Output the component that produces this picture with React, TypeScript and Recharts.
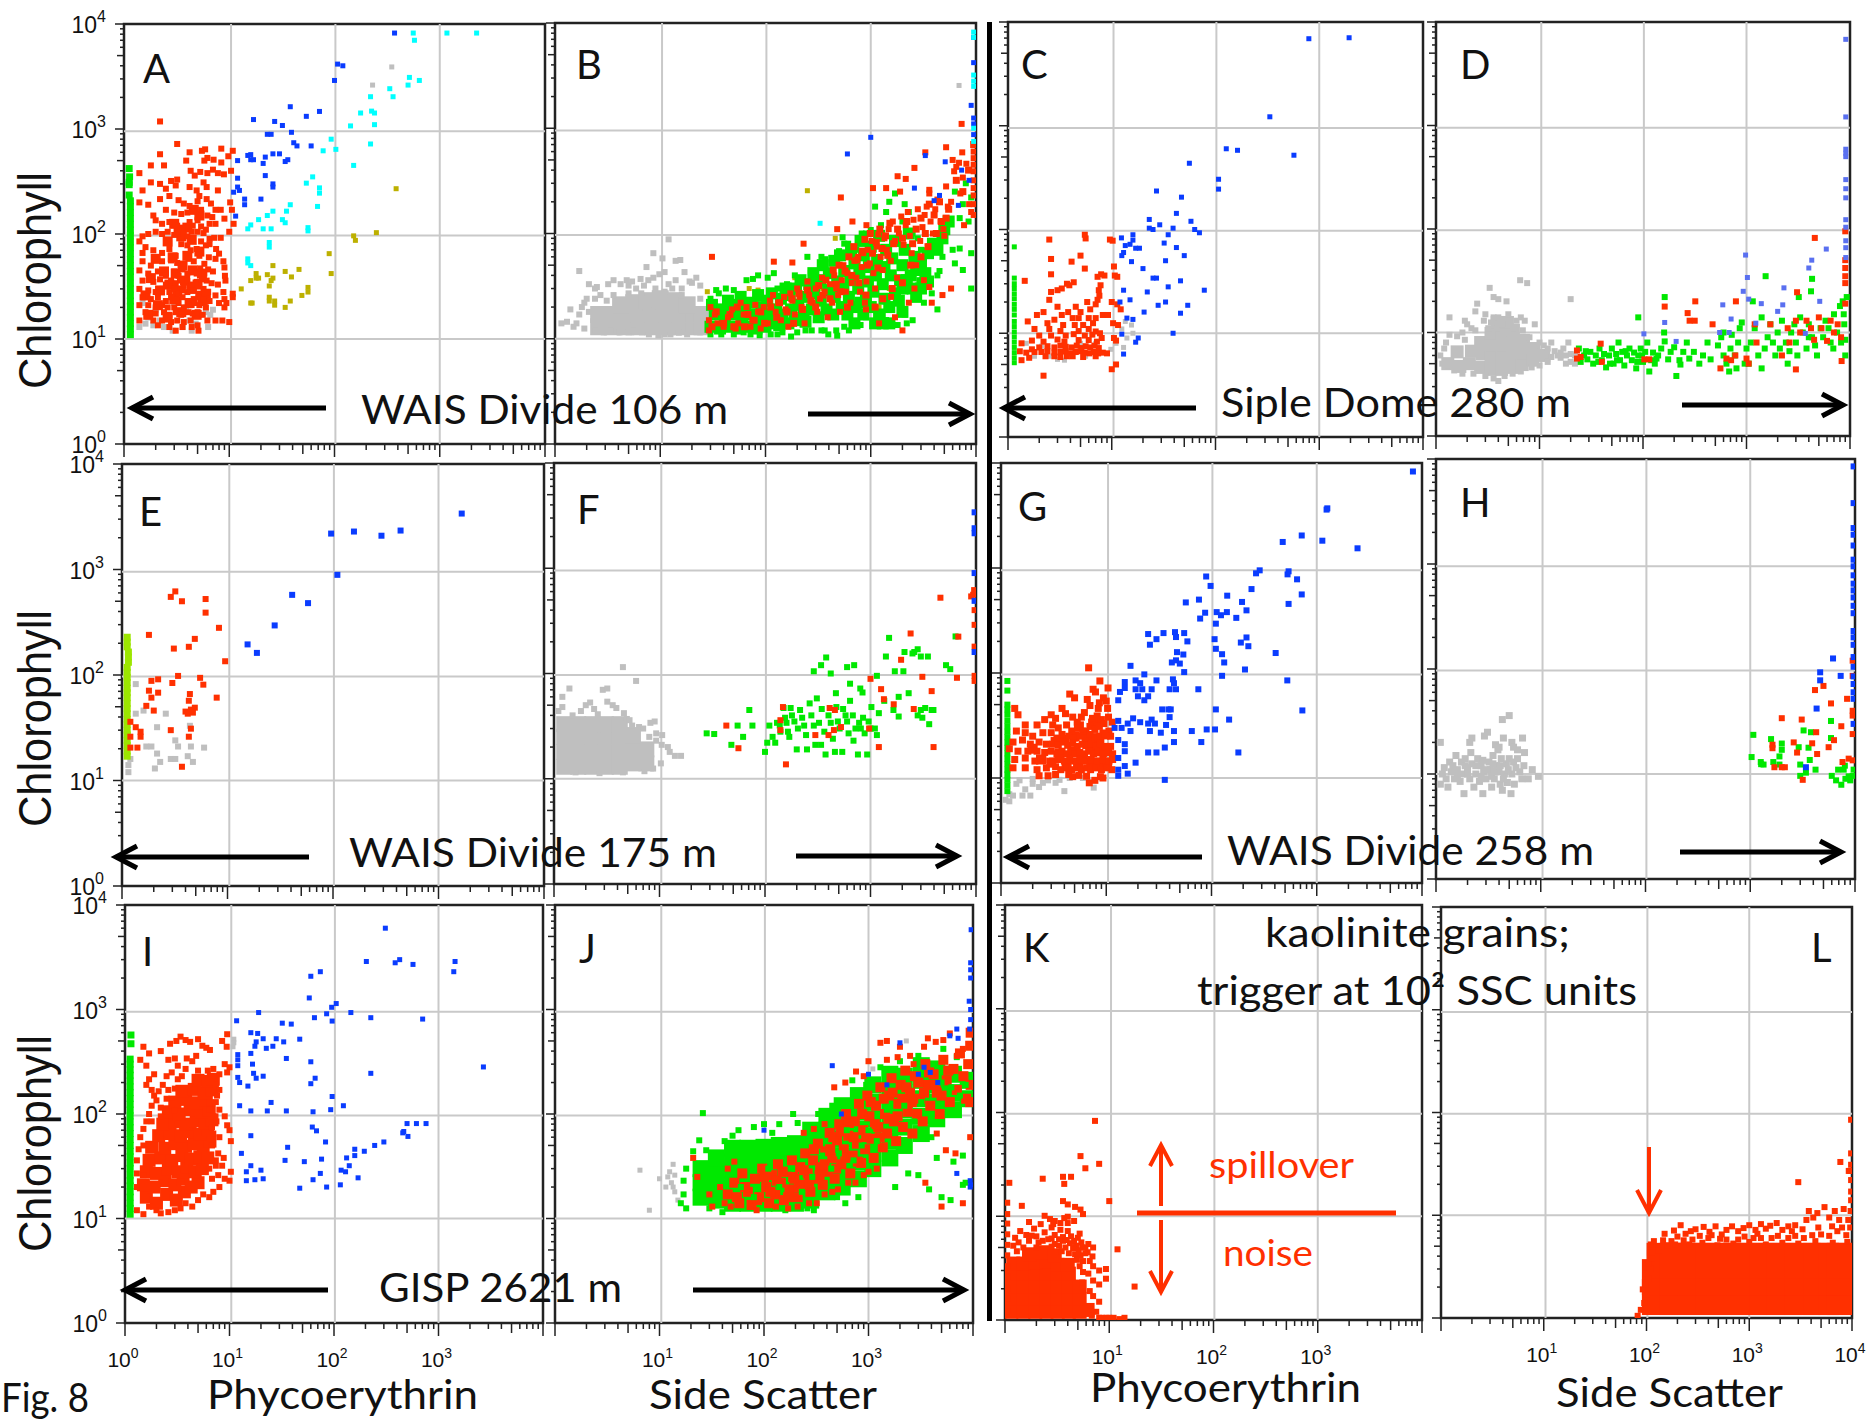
import { ReferenceArea, ReferenceLine, Scatter, ScatterChart, XAxis, YAxis } from "recharts"

type Pt = [number, number]

const RED = "#ff3000"
const GREEN = "#00e800"
const BLUE = "#0a3cff"
const CYAN = "#00ffff"
const OLIVE = "#bdb000"
const GRAY = "#bfbfbf"
const LIME = "#9ce600"
const PERI = "#5a70f0"

const logTicks = [1, 2, 3, 4, 5, 6, 7, 8, 9, 10, 20, 30, 40, 50, 60, 70, 80, 90, 100, 200, 300, 400, 500, 600, 700, 800, 900, 1000, 2000, 3000, 4000, 5000, 6000, 7000, 8000, 9000, 10000]
const gridX = [10.4, 102, 1000]
const gridY = [950, 97, 10]

// panel A
const aGreen: Pt[] = [[1.15, 11], [1.15, 12.5], [1.15, 14], [1.15, 16], [1.15, 18], [1.15, 20.5], [1.15, 23], [1.15, 26], [1.15, 30], [1.15, 34], [1.15, 39], [1.15, 44], [1.15, 50], [1.15, 57], [1.15, 65], [1.15, 74], [1.15, 84], [1.15, 96], [1.15, 109], [1.15, 124], [1.15, 141], [1.15, 160], [1.15, 182], [1.15, 207], [1.12, 235], [1.12, 295], [1.12, 310], [1.13, 350], [1.12, 420]]
const aGray: Pt[] = [[1.4, 13], [1.6, 14], [1.7, 16], [1.9, 13.5], [2.2, 15], [2.4, 13], [2.6, 17], [2.9, 12], [3.3, 18], [3.6, 13], [3.9, 20], [4.2, 15], [4.4, 12], [4.8, 14], [5.2, 17], [5.6, 22], [6, 18], [6.3, 13], [6.6, 17], [7, 19], [2, 19], [3, 22], [1.5, 22]]
const aRedCore: Pt[] = [[1.7, 17], [2.1, 21], [2.6, 16], [3, 24], [3.5, 18], [4.2, 22], [4.9, 17], [5.6, 23], [1.6, 26], [2.2, 29], [2.7, 33], [3.2, 29], [3.8, 36], [4.4, 30], [5, 33], [6, 27], [1.8, 38], [2.4, 44], [3.1, 42], [3.6, 50], [4.5, 45], [5.5, 42], [2, 58], [2.9, 60], [4, 62], [5.2, 68], [2.6, 85], [3.5, 95], [4.4, 88], [3, 125], [4, 115], [3.3, 105], [5.2, 150], [4.6, 170]]
const aRed: Pt[] = [[2.2, 1180], [3.2, 720], [2.2, 575], [1.8, 450], [2.4, 450], [1.4, 380], [4.2, 600], [3.9, 500], [5.5, 620], [5.9, 640], [8.4, 650], [10.8, 620], [6.2, 530], [9.8, 550], [8.4, 480], [5.8, 500], [7.1, 510], [10.4, 400], [4.3, 400], [4.7, 360], [5.3, 390], [6.2, 380], [7, 410], [7.8, 380], [8.9, 370], [3.2, 330], [2.8, 320], [2.2, 300], [1.8, 310], [2.5, 270], [3.1, 290], [1.5, 260], [4.2, 280], [4.9, 260], [5.7, 310], [6.1, 280], [7.8, 260], [5.2, 230], [2.7, 230], [2.2, 215], [1.4, 200], [1.7, 190], [3.3, 210], [3.7, 195], [4.2, 185], [5, 205], [6.1, 215], [6.7, 195], [7.4, 170], [8.3, 170], [10.2, 200], [10.6, 170], [2.5, 170], [3, 160], [3.5, 155], [4, 160], [4.6, 165], [5.4, 170], [6.2, 150], [6.9, 145], [7.4, 125], [9, 140], [11, 125], [1.9, 150], [2, 135], [2.3, 125], [2.7, 130], [3.2, 120], [3.6, 115], [4.2, 130], [4.5, 120], [5, 135], [5.4, 118], [6, 110], [6.5, 125], [10, 105], [1.5, 95], [1.7, 100], [2, 105], [2.3, 100], [2.6, 105], [3, 98], [3.3, 105], [3.7, 100], [4, 95], [4.4, 105], [5, 105], [5.7, 102], [6.5, 90], [7.2, 92], [8.3, 92], [1.4, 85], [1.6, 75], [1.5, 66], [1.9, 70], [2.3, 66], [2.7, 72], [3.1, 62], [3.5, 80], [4, 78], [4.3, 70], [4.9, 72], [5.4, 85], [6, 78], [6.5, 80], [7.5, 72], [1.5, 55], [1.8, 50], [2.3, 55], [2.8, 56], [3.2, 53], [3.7, 50], [4.1, 58], [4.6, 55], [5.2, 62], [5.8, 52], [6.4, 60], [7.4, 58], [8, 65], [8.8, 55], [9, 48], [1.4, 45], [1.7, 42], [2.1, 44], [2.5, 40], [3, 44], [3.3, 40], [3.6, 46], [4, 42], [4.4, 45], [4.9, 42], [5.3, 47], [5.8, 42], [6.3, 46], [7, 44], [9.1, 40], [9.2, 36], [1.5, 36], [1.9, 35], [2.2, 37], [2.5, 33], [2.8, 36], [3.1, 34], [3.4, 36], [3.7, 32], [4, 36], [4.4, 33], [4.9, 35], [5.5, 37], [6.1, 36], [6.8, 34], [7.8, 33], [1.4, 30], [1.7, 29], [2, 28], [2.3, 30], [2.7, 28], [3, 30], [3.3, 27], [3.6, 29], [4, 28], [4.6, 29], [5.1, 27], [5.7, 30], [6.3, 28], [8.8, 28], [10.8, 27], [1.5, 25], [1.8, 24], [2.1, 25], [2.5, 23], [2.8, 25], [3.2, 24], [3.6, 25], [4.1, 23], [4.6, 24], [5.1, 25], [5.7, 24], [6.5, 23], [7.4, 26], [9, 24], [10.8, 25], [1.4, 21], [1.7, 21], [2, 20], [2.3, 21], [2.6, 20], [3, 20], [3.3, 22], [3.7, 20], [4.2, 21], [4.7, 22], [5.2, 21], [6, 20], [8, 22], [9, 20], [9.4, 22], [1.6, 18], [2, 17.5], [2.4, 18], [2.7, 17], [3.1, 18], [3.5, 17], [4.1, 18], [4.5, 17.5], [5, 18], [5.6, 17], [1.4, 15], [1.9, 15], [2.3, 15], [2.8, 14.5], [3.2, 15], [3.7, 14.5], [4.3, 15], [5, 13.5], [6.2, 15], [7.4, 15], [8.6, 15], [10, 14.5], [2.1, 13.5], [2.7, 13], [3.1, 12], [3.6, 13], [4.4, 13], [5.1, 12]]
const aBlue: Pt[] = [[372, 8200], [107, 4150], [120, 4000], [100, 2900], [38, 1630], [72, 1470], [54, 1320], [17, 1230], [27, 1180], [32, 1080], [39, 930], [23, 890], [25, 890], [41, 740], [44, 690], [60, 690], [15, 560], [16, 570], [16, 510], [17, 510], [22, 540], [26, 580], [30, 580], [36, 510], [34, 490], [21, 470], [12, 500], [22, 360], [12, 340], [26, 300], [26, 280], [12, 280], [12.5, 260], [11, 250], [14, 215], [14, 190], [20, 215], [11.5, 148]]
const aCyan: Pt[] = [[560, 8200], [575, 7000], [1170, 8200], [2240, 8200], [515, 3100], [640, 2900], [500, 2620], [335, 2420], [360, 2030], [220, 2030], [225, 1480], [240, 1420], [177, 1420], [240, 1100], [142, 1070], [93, 800], [220, 720], [78, 620], [103, 640], [152, 450], [62, 350], [54, 305], [72, 275], [72, 245], [69, 183], [38, 190], [35, 165], [26, 165], [23, 150], [32, 137], [34, 128], [19, 137], [16, 122], [15, 112], [21, 112], [25, 112], [56, 115], [56, 107], [24, 83], [24, 75], [15, 58], [15, 53], [16, 50]]
const aOlive: Pt[] = [[385, 270], [250, 103], [152, 96], [158, 87], [89, 65], [93, 42], [26, 50], [46, 46], [34, 44], [39, 39], [23, 41], [18, 42], [18, 38], [19, 38], [16, 36], [26, 38], [25, 36], [24, 32], [13, 30], [56, 31], [56, 28], [49, 26], [24, 25], [24, 23], [38, 23], [16, 22], [16.5, 22], [27, 23], [27, 21], [34, 20]]
const aGrayHigh: Pt[] = [[230, 2620], [350, 3900]]

// panel B
const bGrayCore: Pt[] = [[2.6, 13], [3.5, 13], [4.7, 13], [6.3, 13], [8.5, 13], [11.5, 13], [15.5, 13], [21, 13], [25, 13], [2.6, 17], [3.5, 17], [4.7, 17], [6.3, 17], [8.5, 17], [11.5, 17], [15.5, 17], [21, 17], [25, 17], [4.2, 21], [5.6, 22], [7.5, 23], [10, 24], [13.5, 23], [18, 21]]
const bGray: Pt[] = [[1.15, 14], [1.3, 14.5], [1.5, 13], [1.6, 14], [1.9, 12.5], [1.4, 19], [1.7, 17], [1.8, 20], [1.9, 22], [2.1, 18], [2, 24], [2.4, 12], [2.9, 11.5], [3.4, 12], [4.1, 11.5], [5, 11.5], [5.6, 12], [6.7, 11.5], [7.8, 11], [9.6, 10.8], [11, 11], [12.5, 11], [15, 11.4], [18, 11], [24, 11.5], [2.4, 24], [2.7, 26], [3.1, 23], [3.6, 26], [2.1, 33], [2.4, 30], [2.5, 31], [3.2, 33], [3.6, 36], [4.2, 33], [4.8, 36], [5, 32], [5.4, 35], [5.9, 30], [6.5, 37], [7, 32], [7.7, 36], [8.6, 38], [9.8, 41], [12, 33], [14, 36], [16, 30], [19, 35], [20, 34], [22, 38], [24, 32], [17, 43], [11, 43], [14, 55], [15.5, 56], [10.5, 58], [12, 88], [8.6, 65], [7.4, 48], [1.7, 44], [6.6, 27], [9, 30], [11, 28], [13, 30], [16, 26], [24, 24], [5, 27]]
const bGreenCore: Pt[] = [[30, 13], [33, 17], [31, 21], [37, 12.5], [41, 15], [39, 19], [44, 23], [48, 13], [52, 17], [49, 21], [56, 12.5], [60, 15.5], [64, 20], [58, 25], [70, 13], [76, 17], [72, 22], [82, 12.5], [88, 15], [92, 20], [85, 26], [100, 13], [108, 17], [104, 23], [118, 14], [126, 19], [115, 27], [135, 13.5], [145, 17], [140, 24], [155, 30], [165, 14], [175, 19], [170, 26], [190, 15], [205, 21], [195, 30], [215, 36], [230, 17], [245, 25], [240, 14.5], [260, 33], [275, 19], [290, 27], [285, 42], [320, 16], [335, 23], [330, 36], [350, 50], [380, 19], [395, 29], [400, 42], [440, 17], [455, 25], [450, 55], [480, 35], [510, 62], [530, 20], [550, 30], [560, 44], [600, 17], [620, 25], [640, 36], [650, 70], [700, 52], [720, 20], [760, 30], [780, 42], [800, 85], [860, 62], [900, 24], [940, 35], [960, 48], [1000, 75], [1060, 28], [1120, 40], [1150, 56], [1200, 95], [1300, 33], [1350, 48], [1400, 70], [1550, 40], [1600, 58], [1700, 85], [1900, 36], [2000, 50], [2100, 70], [2300, 100], [2400, 40], [2600, 60], [700, 14], [850, 17], [1000, 20], [1200, 17], [1350, 24], [1500, 20], [1700, 27], [1850, 23], [2000, 30], [2200, 36], [2500, 30], [2700, 45], [3000, 52], [3300, 42], [3500, 65], [3900, 80], [4300, 70], [4800, 90], [5000, 110], [5500, 130], [2000, 18], [1100, 14], [1300, 14], [3000, 30], [2700, 25], [3500, 35], [800, 22], [1500, 14]]
const bGreen: Pt[] = [[30, 11], [38, 11], [50, 11], [62, 11.5], [72, 11], [88, 10.8], [112, 11], [130, 11], [145, 11.5], [175, 10.5], [200, 11.5], [240, 12], [275, 12], [340, 12], [365, 12], [395, 11], [470, 12], [480, 10.7], [30, 24], [34, 29], [36, 27], [42, 30], [50, 29], [66, 36], [76, 37], [85, 40], [105, 38], [120, 42], [130, 30], [160, 33], [165, 30], [190, 40], [210, 33], [250, 60], [270, 42], [290, 40], [340, 60], [370, 57], [500, 68], [540, 92], [560, 80], [610, 80], [680, 60], [730, 70], [820, 100], [900, 100], [1000, 108], [1250, 120], [1400, 160], [1500, 200], [1700, 240], [1100, 180], [2100, 190], [2300, 160], [2000, 130], [2500, 100], [2800, 90], [3000, 70], [3200, 58], [2500, 55], [2100, 50], [2900, 36], [3400, 33], [3800, 27], [3200, 22], [4300, 19], [2500, 15], [2100, 17], [2200, 14], [1800, 13.5], [1600, 14], [1400, 15], [900, 16], [800, 13.5], [620, 12], [560, 13], [1300, 17], [4300, 40], [4500, 44], [3600, 76], [4800, 60], [6000, 70], [7000, 72], [6300, 52], [9000, 65], [7500, 45], [9000, 30], [8500, 130], [7500, 190], [9000, 220], [8000, 300], [6300, 250], [7000, 140]]
const bRedCore: Pt[] = [[31, 13], [34, 18], [40, 14], [46, 17], [50, 13], [54, 20], [63, 13], [68, 17], [78, 15], [90, 18], [98, 14], [112, 20], [128, 16], [136, 22], [160, 18], [178, 24], [185, 14], [208, 27], [225, 19], [250, 29], [270, 23], [300, 20], [320, 32], [350, 26], [375, 36], [410, 24], [440, 45], [470, 33], [500, 50], [520, 28], [570, 44], [620, 60], [660, 40], [690, 75], [740, 56], [770, 34], [830, 68], [880, 88], [930, 50], [990, 100], [1040, 65], [1130, 82], [1170, 47], [1220, 110], [1280, 72], [1380, 95], [1450, 62], [1520, 125], [1650, 80], [1800, 110], [2000, 90], [2200, 130], [2500, 80], [2700, 110], [3000, 140], [3300, 100], [3600, 190], [4000, 150], [4500, 200], [5500, 170], [6500, 320], [7500, 250], [8500, 400], [9500, 700], [600, 20], [900, 26], [1100, 20], [1300, 24], [1600, 30], [2000, 34], [2400, 50], [3000, 60], [3500, 75], [4200, 100], [4700, 130], [5200, 140]]
const bRed: Pt[] = [[29, 12], [29, 15], [33, 17], [30, 20], [35, 14], [40, 13], [44, 16], [48, 19], [52, 12.5], [55, 14], [58, 22], [62, 17], [66, 20], [72, 13], [75, 15], [80, 21], [85, 18], [90, 12.5], [96, 20], [105, 14], [110, 23], [118, 26], [125, 18], [132, 22], [140, 15], [150, 25], [155, 19], [165, 13], [172, 27], [180, 23], [190, 17], [200, 30], [210, 25], [220, 20], [235, 14], [250, 35], [260, 26], [280, 22], [300, 30], [310, 18], [330, 24], [345, 38], [365, 28], [390, 16], [410, 33], [430, 22], [450, 40], [470, 30], [490, 26], [510, 18], [530, 36], [550, 50], [580, 28], [600, 42], [640, 22], [660, 34], [700, 55], [730, 38], [760, 60], [790, 28], [820, 48], [850, 65], [880, 22], [910, 35], [940, 70], [980, 52], [1020, 85], [1060, 42], [1100, 30], [1140, 75], [1180, 98], [1240, 60], [1300, 45], [1350, 90], [1420, 70], [1480, 110], [1550, 55], [1620, 130], [1700, 85], [1780, 38], [1850, 100], [1950, 145], [2050, 78], [2150, 120], [2250, 160], [2350, 95], [2450, 65], [2550, 135], [2700, 50], [2800, 170], [2950, 85], [3100, 115], [3250, 150], [3400, 180], [3600, 240], [3700, 130], [3900, 100], [4100, 170], [4300, 210], [4600, 130], [4900, 110], [5200, 280], [5400, 180], [5800, 200], [6000, 500], [6200, 390], [6500, 430], [6900, 470], [7100, 240], [7500, 340], [7700, 120], [8100, 460], [8600, 190], [5000, 95], [5800, 30], [4800, 26], [2000, 12], [3200, 36], [3600, 31], [3800, 22], [1200, 14], [900, 19], [1700, 16], [2300, 22], [2600, 30], [1560, 25], [230, 80], [31, 60], [120, 54], [180, 53], [480, 110], [670, 130], [1050, 270], [1400, 270], [520, 220], [910, 120], [1900, 250], [2600, 420], [3300, 590], [3600, 260], [1800, 350], [2150, 330], [7300, 1100], [5200, 660], [7400, 590], [9500, 600], [9500, 520], [9500, 450], [9500, 390], [9500, 320], [9500, 270], [9500, 230], [9500, 190], [9000, 160], [9500, 150]]
const bBlue: Pt[] = [[600, 570], [1000, 820], [3300, 550], [2600, 270], [5100, 480], [4500, 230], [9500, 7300], [9500, 4200], [9000, 1650], [9500, 1250], [9500, 1100], [9500, 870], [7300, 400], [8600, 320], [6800, 185], [4000, 205]]
const bCyan: Pt[] = [[9500, 8200], [9500, 7300], [9500, 3200], [9500, 2800], [9500, 2500], [330, 125], [9500, 1000], [9500, 750]]
const bOlive: Pt[] = [[250, 255], [28, 28], [70, 30], [85, 29], [190, 38], [350, 30], [460, 90], [600, 35], [1100, 28], [1500, 30], [1200, 20]]
const bGrayHigh: Pt[] = [[6900, 2550]]

// panel C
const cGreen: Pt[] = [[1.15, 5.2], [1.15, 5.8], [1.15, 6.5], [1.15, 7.3], [1.15, 8.2], [1.15, 9.2], [1.15, 10.3], [1.15, 11.6], [1.15, 13], [1.15, 15], [1.15, 17], [1.15, 19], [1.15, 21.5], [1.15, 24], [1.15, 27], [1.15, 30], [1.15, 34], [1.15, 68]]
const cGray: Pt[] = [[1.8, 6], [2.1, 7.5], [2.5, 6], [3, 5.6], [3.5, 5.5], [4.4, 6.5], [5, 8], [5.6, 6], [7, 8], [9.8, 7], [11, 8], [13, 7.3], [14, 9], [12.5, 11], [13.5, 13], [15.5, 12], [16, 10], [1.5, 8]]
const cRed: Pt[] = [[2.5, 80], [5.5, 89], [5.6, 82], [9.6, 80], [10.2, 78], [2.6, 52], [5, 56], [4.1, 49], [5.5, 42], [2.6, 37], [1.45, 32], [10.5, 44], [10.7, 36], [11.3, 35], [8.5, 36], [7.3, 35], [7.9, 37], [4.3, 31], [3.7, 30], [3.3, 27], [3.9, 29], [3, 26], [2.6, 25], [7.8, 29], [7.5, 26], [7.6, 23], [7.3, 21], [10, 20], [11.3, 19], [12.2, 17], [2.5, 21], [3, 18], [5.8, 20], [6.2, 17], [7, 19], [4.5, 18], [5, 16], [3.8, 16], [2.2, 16], [1.9, 15], [3.3, 15], [8.2, 15], [9.2, 15], [4.2, 14], [4.8, 14], [6, 14], [7, 14], [2.8, 13.5], [1.55, 13], [2.4, 12.5], [3.4, 12], [4.4, 12], [5.3, 12], [6.6, 12.5], [10.3, 12.5], [11.5, 12], [1.8, 11], [2.5, 11], [3.2, 10.5], [4.8, 10.5], [6, 11], [7, 10.4], [7.7, 10], [2, 9.5], [2.6, 9.5], [3.6, 9.5], [4.3, 9.8], [5.5, 9.5], [6.5, 9.7], [8, 9], [10.5, 9], [1.7, 8.5], [2.2, 8.3], [3, 8.7], [3.5, 8.3], [4.8, 8.6], [6, 8.6], [7.2, 8.3], [11, 8.5], [1.35, 8], [1.7, 7], [2, 7.3], [2.4, 7.5], [2.8, 7.3], [3.2, 7.6], [3.6, 7.4], [4.1, 7.3], [4.6, 7.6], [5.1, 7.2], [5.6, 7.5], [6.2, 7.3], [6.8, 7.6], [7.5, 7.2], [1.3, 6.7], [1.5, 6.5], [1.8, 6.6], [2.1, 6.6], [2.4, 6.7], [2.8, 6.5], [3.2, 6.6], [3.6, 6.7], [4, 6.4], [4.5, 6.6], [5, 6.7], [5.5, 6.5], [6.1, 6.4], [6.7, 6.6], [7.4, 6.4], [8.2, 6.5], [9, 6.4], [1.6, 5.8], [2.3, 6], [2.8, 6], [3.2, 5.9], [3.7, 6], [10, 4.5], [2.2, 3.9], [4.2, 6], [5.3, 5.9], [7, 6], [1.35, 5.5], [11, 5]]
const cBlue: Pt[] = [[794, 6900], [1940, 7050], [334, 1220], [127, 600], [163, 580], [570, 520], [56, 435], [107, 305], [107, 245], [27, 235], [47, 205], [42, 143], [23, 125], [58, 120], [29, 111], [23, 103], [25, 100], [39, 103], [63, 100], [70, 93], [35, 89], [16, 89], [12.4, 83], [16, 79], [32, 74], [13.5, 70], [15, 72], [42, 67], [17, 66], [18.5, 66], [13, 60], [12.5, 56], [50, 56], [33, 50], [15.5, 49], [20, 42], [25, 34], [27, 34], [46, 32], [35, 28], [13, 26], [22, 25], [78, 26], [15, 21], [12, 20], [33, 20], [28, 18.6], [54, 18.6], [20.5, 16], [46, 15.6], [14, 14], [16, 13.6], [39, 10], [12.5, 9.8], [18, 9], [17, 8.2], [13, 6.3]]

// panel D
const dGrayCore: Pt[] = [[1.3, 5], [1.7, 4.7], [1.6, 6.5], [2.1, 5], [2.2, 6.6], [2.7, 4.6], [2.8, 6.2], [2.7, 8], [3.4, 4.4], [3.4, 5.8], [3.5, 7.6], [3.4, 9.8], [4.3, 4.4], [4.3, 5.8], [4.4, 7.6], [4.3, 10], [5.4, 4.6], [5.4, 6], [5.4, 8], [5.6, 10.5], [6.8, 4.9], [6.9, 6.4], [7, 8.4], [8.6, 5.4], [8.8, 7], [11, 6], [3.9, 12.5], [4.9, 12.5]]
const dGray: Pt[] = [[1.1, 6], [1.15, 5], [1.2, 7], [1.25, 8], [1.3, 4.8], [1.5, 4.3], [1.8, 4], [1.35, 9.5], [1.6, 9.2], [1.8, 10], [1.35, 14], [2.3, 4], [3, 3.8], [3.6, 3.6], [4, 3.4], [4.6, 3.8], [5.5, 4], [6.6, 4.2], [1.9, 13], [2, 12], [2.2, 11], [2.4, 10.5], [2.4, 16], [2.5, 19], [2.9, 13], [3, 15], [3.2, 11], [3.4, 12.5], [3.6, 14], [3.9, 11], [4, 14], [4.4, 12], [3.3, 27], [3.6, 22], [4, 21], [4.8, 20], [5, 15], [5.6, 11], [6, 13], [6.6, 14], [6.9, 10.5], [7.2, 13], [7.4, 9], [8, 9], [9, 12], [10, 8], [11, 7.5], [12, 7], [13, 8], [15, 6], [17, 7], [18, 5], [19, 8], [20, 6.2], [22, 5], [16, 5.7], [12, 5.2], [6.5, 32], [7.6, 30], [20, 21], [13, 5.8], [14, 6.6], [16, 6.4], [18, 6], [20, 5.2], [22, 6], [1.9, 8.5], [8.4, 4.6], [10, 4.8]]
const dGreen: Pt[] = [[24, 7], [25, 5.2], [27, 6], [29, 5.5], [31, 6.5], [33, 5], [35, 6], [38, 7], [40, 5.4], [42, 6.2], [44, 4.6], [47, 6], [50, 7], [52, 5], [55, 6.2], [58, 8], [60, 5.4], [63, 6.5], [66, 4.8], [70, 6], [74, 7], [78, 5.4], [82, 6.4], [86, 4.5], [90, 6], [95, 7], [100, 5.2], [105, 6.5], [110, 8], [115, 4.2], [120, 5.4], [125, 6.4], [130, 5], [140, 6], [150, 7], [162, 8.2], [175, 5.5], [185, 6.5], [200, 7.2], [210, 3.8], [225, 5.4], [245, 6.5], [265, 8], [280, 5.6], [310, 6.5], [350, 5], [380, 6], [420, 8], [450, 5.5], [530, 7.5], [570, 9], [600, 6], [640, 5], [680, 4.2], [700, 7], [720, 9.5], [770, 6], [800, 4.5], [830, 8], [860, 11], [900, 12.5], [960, 5], [1000, 7], [1050, 5], [1100, 8], [1200, 11], [1300, 6], [1400, 4.5], [1500, 7], [1600, 9], [1700, 12], [1800, 8], [1900, 6], [2000, 10], [2200, 13], [2400, 8], [2500, 5], [2700, 10], [2900, 12], [3000, 8], [3300, 14], [3500, 10], [3800, 7], [4000, 12], [4300, 9], [4800, 6], [5200, 11], [5800, 13], [6500, 8], [7000, 15], [7500, 10], [8000, 18], [8800, 12], [9000, 6], [8500, 20], [9300, 22], [9000, 8.5], [1150, 20], [1530, 35], [3200, 22], [4200, 25], [4300, 33], [90, 14], [160, 10], [162, 22], [600, 10], [1400, 14], [230, 4.9], [28, 6.6], [37, 5.2], [48, 5], [56, 5.4], [68, 6.6], [88, 5.2], [98, 6], [135, 5.6], [2100, 7], [2600, 6.6], [3100, 6], [4000, 9], [4600, 7.5], [5500, 9], [6200, 11], [6900, 7], [8200, 8], [8700, 15]]
const dRed: Pt[] = [[4570, 82], [3080, 24.5], [320, 20], [790, 20], [162, 17.8], [270, 15.4], [282, 13], [316, 13], [470, 12], [39, 7.8], [23, 6.7], [23, 5.6], [103, 5.5], [115, 5.5], [25, 5.8], [40, 5.2], [640, 5.6], [710, 5.4], [560, 4.5], [1000, 5.6], [3000, 4.4], [780, 6], [2200, 6], [2600, 8], [3300, 10], [3800, 13], [4200, 11], [4500, 8.5], [5000, 14], [5300, 11], [6000, 8.3], [6500, 13], [7000, 10], [7600, 12], [8200, 9], [3000, 13], [2500, 11], [9000, 19], [9000, 35], [9000, 30], [9000, 42], [9000, 50], [9000, 95], [8300, 5.3], [1700, 12], [1250, 8], [1050, 5], [1200, 12]]
const dPeri: Pt[] = [[9100, 6800], [9100, 1210], [9100, 590], [9100, 540], [9100, 500], [9100, 300], [9100, 245], [9100, 200], [9100, 123], [9100, 104], [9100, 77], [9100, 66], [9100, 53], [5900, 64], [4270, 50], [4000, 42], [980, 56], [1020, 34], [930, 25], [1050, 21], [1390, 19], [590, 18.5], [2240, 18.5], [5100, 20], [2300, 27], [2000, 16], [710, 13.5], [162, 12.5], [102, 9.7], [209, 8.2], [550, 10], [680, 10], [1230, 12.3], [3700, 9.8]]

// panel E
const eGray: Pt[] = [[1.35, 82], [1.6, 46], [1.35, 43], [2.6, 43], [2.15, 32], [3.2, 24], [4.5, 21], [6, 20.5], [3.4, 21], [1.7, 21], [1.9, 21], [2.15, 18], [4.4, 33], [2.9, 16], [3.2, 16], [4.2, 17], [4.7, 15], [2.3, 15], [2.05, 13], [1.2, 16], [1.15, 12], [1.15, 14]]
const eLime: Pt[] = [[1.12, 17], [1.12, 19], [1.12, 21.5], [1.12, 24], [1.12, 27], [1.12, 30], [1.12, 34], [1.12, 38], [1.12, 43], [1.12, 48], [1.12, 54], [1.12, 61], [1.12, 68], [1.12, 75], [1.12, 85], [1.12, 95], [1.12, 106], [1.12, 118], [1.15, 132], [1.15, 148], [1.15, 165], [1.12, 185], [1.12, 205], [1.12, 228]]
const eRed: Pt[] = [[3.2, 620], [2.9, 550], [3.7, 500], [6.2, 525], [6.2, 390], [8.3, 280], [1.8, 240], [4.9, 220], [4.3, 185], [3.1, 178], [9.5, 135], [3.4, 98], [2.2, 91], [1.9, 88], [3, 84], [5.5, 94], [5.9, 81], [1.8, 71], [2.2, 68], [4.4, 66], [1.9, 61], [7.9, 61], [4.3, 57], [1.7, 51], [2, 46], [4, 45], [4.5, 47], [4.9, 49], [4.2, 43], [4.7, 44], [1.2, 36], [1.35, 32], [1.5, 29], [1.5, 26], [1.2, 26], [4.5, 31], [2.9, 30], [4.3, 26], [1.2, 20.5], [1.4, 20.5], [3.7, 13.5]]
const eBlue: Pt[] = [[96, 2190], [158, 2290], [288, 2090], [437, 2340], [1660, 3390], [110, 890], [41, 575], [58, 480], [28, 295], [15.5, 195], [19, 162]]

// panel F
const fGrayCore: Pt[] = [[1.25, 13], [1.7, 13], [2.3, 13], [3.1, 13], [4.2, 13], [5.6, 14], [7.5, 14], [1.25, 18], [1.7, 18], [2.3, 18], [3.1, 18], [4.2, 18], [5.6, 19], [7.5, 19], [1.25, 25], [1.7, 25], [2.3, 25], [3.1, 25], [4.2, 25], [5.6, 26], [1.25, 33], [1.7, 33], [2.3, 33], [3.1, 33], [4.2, 33]]
const fGray: Pt[] = [[1.1, 44], [1.2, 48], [1.5, 40], [1.8, 44], [2, 50], [2.2, 53], [2.4, 46], [2.6, 41], [3.2, 54], [3.6, 50], [3.9, 47], [4.6, 42], [4.9, 37], [5.2, 36], [5.5, 32], [6.4, 31], [7, 30], [8.2, 34], [9, 35], [8, 25], [9.3, 27], [10.6, 26], [9.3, 23], [10.5, 21], [12, 20], [12.5, 18], [14, 16.5], [16, 16.5], [10.3, 14], [8.7, 12.5], [7.2, 11.8], [4.5, 11.5], [2.7, 11.3], [1.6, 11.5], [1.4, 72], [2.9, 70], [3.2, 72], [6, 85], [4.5, 115], [1.2, 60]]
const fGreen: Pt[] = [[28, 27], [33, 26.6], [55, 32], [62, 25], [48, 21], [76, 32], [71, 45], [100, 18], [105, 22], [110, 32], [118, 25], [125, 22], [130, 34], [138, 32], [140, 28], [150, 47], [155, 38], [160, 34], [165, 28], [170, 25], [175, 47], [180, 40], [190, 35], [200, 19], [205, 30], [215, 45], [225, 38], [235, 32], [245, 26], [250, 19], [265, 52], [275, 40], [290, 32], [300, 21], [310, 58], [325, 34], [340, 21], [345, 46], [365, 28], [375, 17], [400, 40], [420, 34], [440, 24], [460, 18], [475, 48], [490, 35], [510, 30], [540, 18], [550, 46], [580, 40], [600, 35], [620, 27], [640, 55], [680, 40], [690, 23], [720, 30], [760, 17], [780, 34], [810, 30], [850, 38], [880, 27], [930, 17], [960, 35], [1000, 30], [1020, 48], [1100, 30], [1150, 26], [1200, 42], [380, 142], [290, 105], [340, 120], [420, 100], [470, 65], [600, 115], [640, 80], [700, 120], [800, 72], [840, 66], [1150, 95], [1400, 145], [1700, 105], [1850, 60], [2050, 105], [2300, 65], [2600, 160], [2800, 170], [3000, 145], [3500, 145], [1350, 55], [1650, 45], [1850, 39], [2800, 40], [3000, 45], [3100, 38], [3300, 47], [3800, 45], [3600, 33], [6400, 225], [3950, 45], [1500, 218], [5200, 120], [5700, 110], [2100, 160], [2500, 155]]
const fRed: Pt[] = [[4600, 525], [2400, 240], [6800, 224], [1950, 135], [3100, 93], [6600, 91], [1000, 89], [3800, 68], [1260, 71], [1340, 57], [1660, 51], [2570, 46], [3960, 20], [1200, 20], [148, 48], [43, 32], [56, 19.5], [158, 13.7], [140, 36], [140, 29], [300, 26], [400, 26], [450, 29], [525, 31], [410, 47], [460, 45], [970, 30], [9600, 620], [9400, 560], [9000, 540], [9700, 400], [9700, 290], [9700, 180], [9700, 95], [9700, 85]]
const fBlue: Pt[] = [[9700, 3400], [9700, 2400], [9700, 2150], [9700, 900], [9700, 490], [9700, 160]]

// panel G
const gGreen: Pt[] = [[1.15, 7.5], [1.15, 8.5], [1.15, 9.6], [1.15, 10.8], [1.15, 12], [1.15, 13.6], [1.15, 15.3], [1.15, 17.2], [1.15, 19.4], [1.15, 21.8], [1.15, 24.5], [1.15, 27.6], [1.15, 31], [1.15, 35], [1.15, 40], [1.15, 45], [1.15, 50], [1.15, 68], [1.15, 84]]
const gGray: Pt[] = [[1.1, 6.2], [1.2, 7], [1.3, 6.8], [1.4, 8.8], [1.6, 6.8], [1.7, 7.8], [1.9, 6.8], [2, 8.8], [2.3, 8.2], [2.5, 9], [2.8, 9.5], [3.3, 9], [3.6, 9.6], [4, 7.5], [4.5, 10], [6, 10], [7.6, 8.1], [1.5, 9.5], [2, 9.8], [1.2, 6]]
const gRedCore: Pt[] = [[3, 14], [3.6, 17], [4.2, 13], [4.8, 18], [5.4, 14], [6, 16], [6.6, 21], [7.2, 13], [7.8, 18], [8.6, 14], [9.4, 18], [10.2, 14], [4, 23], [5, 25], [6.2, 27], [7.4, 24], [8.6, 22], [9.6, 26], [5.5, 31], [7.5, 33], [3.3, 22], [2.4, 15], [2, 19]]
const gRed: Pt[] = [[6.8, 112], [8.7, 84], [10.4, 72], [7.5, 70], [7.9, 66], [4.5, 63], [5, 58], [6.6, 56], [9.4, 58], [8.6, 52], [10, 54], [7, 49], [8.4, 46], [3.8, 46], [1.35, 46], [1.45, 40], [10.3, 46], [6.2, 42], [3, 40], [3.3, 37], [4.1, 41], [4.8, 38], [5.3, 34], [5.8, 38], [7.4, 37], [8.2, 39], [9, 36], [10.5, 38], [11.4, 34], [1.7, 32], [2.2, 32], [2.6, 36], [3.1, 32], [3.5, 30], [4.2, 32], [4.7, 28], [5.4, 30], [6, 28], [7, 31], [7.8, 29], [8.6, 31], [9.5, 33], [10.6, 28], [1.4, 28], [1.7, 27], [2, 25], [2.5, 27], [3, 27], [3.4, 24], [3.8, 26], [4.4, 25], [5, 24], [5.6, 25], [6.3, 24], [7, 26], [7.8, 24], [8.7, 25], [9.7, 26], [11, 25], [1.3, 22], [1.6, 23], [1.9, 21], [2.3, 22], [2.7, 21], [3.1, 21], [3.5, 20.5], [3.9, 22], [4.3, 20.5], [4.8, 21.5], [5.3, 20], [5.9, 21], [6.5, 20.5], [7.2, 21], [8, 20], [8.8, 21], [9.8, 20], [11, 20], [1.2, 19], [1.45, 18], [1.8, 18], [2.2, 18], [2.6, 17.5], [3, 18], [3.4, 17], [3.8, 18], [4.2, 17], [4.6, 18], [5.1, 17], [5.6, 17.5], [6.2, 17], [6.8, 18], [7.6, 17], [8.4, 17.5], [9.4, 17], [10.5, 17.5], [11.5, 17], [1.35, 15], [1.7, 15.5], [2.1, 14.5], [2.5, 15], [3.1, 14.5], [3.5, 15], [4, 14.5], [4.5, 15], [5, 14.5], [5.6, 15], [6.3, 14.5], [7.2, 15], [8.2, 14.5], [9.3, 15], [10.6, 14.5], [11.5, 15], [1.3, 12.5], [1.7, 12.5], [2.2, 12], [2.7, 12.5], [3.3, 12.8], [3.7, 12], [4.2, 12.5], [4.7, 12], [5.3, 12.5], [5.8, 12], [6.5, 12.5], [7.1, 12], [8, 12.5], [9, 12], [10.2, 12.5], [11.3, 12], [2.3, 10.5], [2.8, 10.5], [3.3, 10.8], [4.4, 10.8], [4.8, 10.3], [5.5, 10.6], [6.5, 10.4], [8.8, 10.3], [6.9, 9], [7.8, 9.5], [9.3, 10]]
const gBlue: Pt[] = [[8200, 8300], [1260, 3700], [1240, 3600], [720, 2040], [475, 1770], [1130, 1820], [2440, 1540], [287, 950], [265, 890], [540, 930], [528, 870], [650, 780], [89, 830], [98, 675], [240, 630], [720, 560], [141, 545], [195, 475], [540, 455], [57, 470], [76, 500], [215, 395], [87, 375], [112, 380], [140, 380], [123, 355], [78, 330], [110, 295], [172, 335], [25, 235], [35, 240], [45, 245], [55, 240], [46, 220], [30, 210], [26, 186], [59, 200], [107, 210], [215, 218], [190, 195], [224, 180], [110, 170], [126, 151], [407, 155], [47, 158], [54, 150], [132, 126], [42, 126], [46, 132], [50, 123], [208, 108], [17, 117], [55, 102], [23, 97], [126, 94], [525, 85], [19, 85], [30, 85], [43, 87], [15, 82], [21, 80], [44, 80], [15, 72], [19, 70], [22, 70], [27, 70], [40, 70], [46, 70], [13.5, 66], [20, 60], [23, 55], [25, 60], [75, 70], [13, 55], [34, 45], [110, 45], [39, 45], [41, 45], [730, 44], [40, 38], [147, 36], [13, 35], [16, 33], [18, 37], [21, 34], [25, 33], [27, 36], [29, 33], [37, 32], [90, 29], [108, 29], [12, 30], [14, 30], [17, 28], [26, 28], [33, 27], [44, 28], [65, 28], [13, 23], [15, 21], [25, 17.5], [30, 17.5], [44, 22], [36, 19.5], [80, 22], [180, 17.5], [15, 18], [13, 15.5], [19, 14], [15, 13], [13, 12], [16, 11], [36, 9.6], [13, 10.5]]

// panel H
const hGray: Pt[] = [[1.1, 8], [1.15, 10], [1.2, 11.5], [1.25, 9], [1.3, 7.5], [1.35, 13], [1.4, 10.5], [1.45, 12], [1.5, 9], [1.55, 15], [1.6, 11], [1.7, 8.5], [1.75, 13], [1.8, 10], [1.85, 6.5], [1.9, 14], [2, 11.5], [2.1, 9], [2.15, 16], [2.2, 12.5], [2.3, 7.5], [2.4, 10], [2.5, 14], [2.6, 8.5], [2.7, 12], [2.8, 6.5], [2.85, 10.5], [2.9, 23], [3, 9], [3.1, 25], [3.2, 13], [3.3, 11], [3.4, 7.5], [3.5, 15], [3.6, 9], [3.8, 12], [3.9, 17], [4, 10.5], [4.1, 8], [4.2, 14], [4.3, 7], [4.4, 22], [4.5, 10], [4.7, 12.5], [4.8, 8.3], [5, 14], [5.2, 6.5], [5.3, 10], [5.5, 13], [5.6, 8], [5.8, 11.5], [6, 14], [6.3, 10.5], [6.6, 9], [6.9, 12], [4.3, 33], [5, 36], [5.3, 20], [6.7, 22], [7, 16], [7.6, 9], [8.3, 11], [9.5, 9.5], [1.1, 20], [2.1, 20], [2.2, 22], [3.7, 19], [4, 18], [5.5, 18], [6, 17], [1.6, 9.5], [2, 10], [2.4, 12], [2.7, 9.5], [3.1, 11], [3.4, 9.5], [3.7, 10.5], [4.1, 12], [4.4, 9], [4.9, 11], [1.9, 12], [2.8, 13.5], [3.5, 12.5]]
const hGreen: Pt[] = [[1070, 23.6], [1580, 21.5], [2000, 19.5], [2000, 17], [1030, 14.5], [1260, 13], [1340, 12.3], [1660, 13], [1900, 14.7], [2900, 18], [3600, 17.8], [3230, 26], [3800, 25], [5900, 32], [5900, 22], [3700, 13.6], [3000, 12.3], [3400, 10.3], [3000, 9.6], [4200, 11], [6000, 9.6], [6600, 8.7], [7400, 7.9], [6900, 11], [8000, 12], [9500, 9.6], [8100, 9], [9700, 11], [7800, 11], [8700, 9.5], [1270, 12.4], [1900, 12.3], [9000, 8.7]]
const hRed: Pt[] = [[5000, 69], [4150, 63], [2000, 34], [3100, 33], [7400, 28.5], [4260, 25], [5900, 47], [8400, 52], [1630, 19], [1630, 17.6], [2600, 20], [3900, 19.6], [6300, 21], [2800, 16], [4350, 15.5], [5600, 18], [1700, 11.6], [2140, 11.6], [2000, 11.6], [3170, 8.8], [7600, 13], [8700, 14], [9500, 13.5], [9500, 24], [9500, 36], [9500, 40], [9500, 86], [9500, 120]]
const hBlue: Pt[] = [[9700, 8500], [9700, 3800], [9700, 2200], [9700, 1900], [9700, 1500], [9700, 1100], [9700, 950], [9700, 780], [9700, 650], [9700, 560], [9700, 480], [9700, 400], [9700, 340], [9700, 230], [9700, 200], [9700, 170], [9700, 130], [9700, 105], [9700, 85], [9700, 72], [9700, 60], [9700, 52], [9700, 30], [6170, 126], [4650, 93], [4650, 78], [7300, 86], [4300, 42], [3400, 11.6]]

// panel I
const iGreen: Pt[] = [[1.12, 11], [1.12, 12.5], [1.12, 14], [1.12, 16], [1.12, 18], [1.12, 20.5], [1.12, 23], [1.12, 26], [1.12, 30], [1.12, 34], [1.12, 39], [1.12, 44], [1.12, 50], [1.12, 57], [1.12, 65], [1.12, 74], [1.12, 84], [1.12, 96], [1.12, 109], [1.12, 124], [1.12, 141], [1.12, 160], [1.12, 182], [1.12, 207], [1.12, 235], [1.12, 265], [1.12, 300], [1.12, 335], [1.14, 470], [1.14, 570]]
const iRedCore: Pt[] = [[1.6, 16], [2, 14], [2.5, 17], [3.1, 15], [3.7, 18], [1.5, 21], [1.9, 20], [2.4, 23], [3, 21], [3.6, 24], [4.3, 20], [5, 22], [1.6, 28], [2, 27], [2.6, 30], [3.2, 28], [3.9, 31], [4.7, 28], [5.5, 30], [1.7, 36], [2.2, 38], [2.8, 36], [3.5, 40], [4.3, 37], [5.2, 39], [6.2, 38], [1.8, 48], [2.4, 47], [3, 52], [3.8, 49], [4.6, 52], [5.6, 49], [6.5, 55], [2.1, 62], [2.7, 65], [3.4, 62], [4.2, 68], [5.2, 64], [6.2, 70], [2.3, 80], [3, 84], [3.8, 80], [4.8, 86], [5.8, 82], [6.8, 88], [2.6, 105], [3.3, 100], [4.2, 110], [5.3, 104], [6.4, 110], [3, 130], [3.8, 138], [4.8, 128], [6, 135], [3.5, 165], [4.6, 172], [5.7, 160], [6.8, 170], [5, 210], [6.2, 205], [7, 215]]
const iRed: Pt[] = [[1.3, 12], [1.5, 11], [1.7, 13], [2, 12], [2.2, 11.2], [2.6, 11.5], [3, 12], [3.4, 12.5], [3.8, 14], [4.4, 13], [5, 15], [5.6, 17], [6.4, 16], [7, 18], [8, 20], [9, 24], [10, 23], [10.3, 28], [6.8, 24], [7.8, 26], [8.5, 32], [7.4, 32], [1.3, 20], [1.3, 27], [1.3, 36], [1.35, 46], [1.4, 60], [1.5, 72], [1.6, 85], [1.7, 100], [1.8, 120], [1.9, 150], [2, 135], [2.2, 115], [2.5, 140], [2.8, 125], [1.6, 190], [1.8, 170], [2.1, 165], [2.3, 190], [2.6, 170], [3, 175], [1.7, 215], [1.9, 240], [2.5, 230], [2.8, 250], [3.2, 215], [3.5, 230], [3.2, 290], [3.8, 270], [1.4, 330], [1.6, 290], [2.6, 330], [3, 340], [3.9, 340], [4.4, 320], [4.8, 360], [5, 260], [6.2, 260], [7, 270], [8, 240], [9.5, 250], [10, 280], [1.5, 440], [1.7, 380], [2.2, 400], [2.7, 470], [3.1, 500], [3.4, 550], [3.8, 510], [4.2, 490], [5, 520], [5.5, 450], [6, 430], [6.5, 410], [8.5, 500], [9.4, 440], [9.5, 580], [9, 300], [7.4, 190], [7.6, 150], [8, 170], [7.4, 130], [8, 110], [7, 95], [7.5, 85], [9, 95], [9.5, 78], [10, 70], [8, 60], [6.8, 50], [7.8, 42], [8.8, 38], [7, 65], [7.4, 36], [6.4, 30], [10.3, 55], [1.5, 26], [1.5, 50], [1.8, 85], [2.2, 95], [2.5, 105], [3, 108], [3.2, 82], [4, 105], [6.5, 130], [6.5, 110], [6.8, 75]]
const iBlue: Pt[] = [[310, 6000], [204, 2880], [425, 3000], [385, 2800], [570, 2700], [1440, 2880], [1400, 2300], [2690, 282], [60, 2080], [74, 2300], [58, 1290], [105, 1140], [95, 1050], [85, 910], [65, 835], [96, 775], [145, 935], [225, 835], [705, 810], [19, 935], [11.7, 780], [32, 740], [39, 725], [16, 600], [18.6, 590], [21, 525], [28, 525], [47, 520], [33, 490], [18, 490], [26, 445], [22.5, 425], [17.5, 445], [16, 380], [35, 340], [12, 370], [12, 330], [12, 290], [60, 316], [16.6, 300], [225, 245], [17, 245], [12, 224], [21, 230], [18, 220], [66, 220], [60, 195], [12.5, 200], [15, 185], [96, 147], [123, 120], [12.5, 120], [25, 129], [16, 107], [23, 107], [35, 107], [93, 110], [63, 105], [500, 81], [615, 81], [760, 81], [455, 66], [510, 61], [465, 68], [300, 54], [245, 50], [195, 44], [158, 46], [158, 40], [132, 38], [140, 32], [117, 29], [129, 28], [170, 24.5], [115, 21], [85, 20], [63, 23.5], [74, 27], [76, 37], [52, 35], [34, 36], [62, 75], [68, 69], [83, 54], [36, 48], [16, 62], [13, 42], [16, 32], [14.5, 28], [20, 29], [14.5, 23], [17.5, 23.5], [21, 24], [47, 19.5]]
const iGrayHigh: Pt[] = [[11, 520], [11, 480], [10.8, 440]]

// panel J
const jGray: Pt[] = [[6.5, 29], [8, 12], [10, 24], [11.5, 20], [12, 25], [12.5, 28], [13, 22], [13.5, 33], [14, 26], [14, 18], [13.5, 20], [15, 15], [2300, 500], [1100, 270]]
const jGreenCore: Pt[] = [[25, 16], [25, 22], [25, 30], [35, 15], [35, 21], [35, 29], [35, 38], [50, 14], [50, 19], [50, 26], [50, 35], [50, 47], [70, 14], [70, 19], [70, 26], [70, 35], [70, 47], [100, 14], [100, 19], [100, 26], [100, 35], [100, 48], [140, 14], [140, 19], [140, 26], [140, 35], [140, 50], [200, 14], [200, 19], [200, 27], [200, 37], [200, 52], [280, 15], [280, 20], [280, 28], [280, 38], [280, 55], [280, 70], [400, 18], [400, 25], [400, 34], [400, 50], [400, 70], [400, 95], [560, 20], [560, 28], [560, 40], [560, 58], [560, 85], [560, 120], [800, 24], [800, 35], [800, 50], [800, 72], [800, 105], [800, 150], [1100, 30], [1100, 42], [1100, 60], [1100, 90], [1100, 130], [1100, 190], [1600, 38], [1600, 55], [1600, 80], [1600, 120], [1600, 170], [1600, 240], [2200, 50], [2200, 75], [2200, 110], [2200, 160], [2200, 230], [3200, 65], [3200, 95], [3200, 140], [3200, 210], [3200, 290], [4500, 90], [4500, 130], [4500, 190], [4500, 270], [6500, 110], [6500, 160], [6500, 240], [9000, 140], [9000, 210]]
const jGreen: Pt[] = [[16, 14], [18, 12.5], [17, 17], [17, 23], [18, 30], [21, 44], [24, 56], [28, 45], [30, 12.5], [26, 102], [40, 11.5], [42, 55], [50, 62], [57, 70], [80, 75], [100, 80], [120, 66], [140, 80], [160, 12], [210, 82], [260, 12.5], [300, 12], [500, 16], [600, 14], [800, 16], [190, 100], [330, 100], [450, 120], [700, 210], [950, 190], [1300, 280], [2000, 320], [3000, 360], [5200, 420], [7000, 350], [9000, 300], [1800, 20], [2400, 27], [3000, 26], [3800, 19], [5000, 16], [6100, 15], [4500, 38], [6500, 35], [8000, 40], [8500, 22], [8000, 21], [4000, 60]]
const jRedCore: Pt[] = [[45, 17], [52, 22], [58, 14], [62, 27], [70, 18], [76, 13.5], [82, 24], [90, 16], [96, 30], [105, 20], [112, 14], [120, 26], [128, 17], [136, 33], [145, 22], [155, 15], [165, 28], [175, 19], [185, 36], [195, 24], [210, 16], [222, 31], [235, 21], [248, 42], [262, 27], [278, 18], [295, 36], [310, 24], [328, 52], [345, 31], [365, 21], [385, 44], [405, 28], [425, 66], [450, 38], [475, 24], [500, 56], [525, 80], [550, 33], [580, 46], [610, 100], [640, 62], [670, 27], [705, 40], [740, 85], [775, 52], [810, 125], [850, 34], [890, 70], [930, 46], [975, 150], [1020, 95], [1070, 58], [1120, 38], [1180, 120], [1240, 75], [1300, 180], [1370, 48], [1440, 100], [1510, 65], [1580, 150], [1660, 220], [1750, 85], [1840, 55], [1930, 125], [2030, 190], [2130, 75], [2250, 260], [2370, 105], [2500, 160], [2630, 65], [2780, 230], [2920, 100], [3100, 140], [3300, 85], [3500, 300], [3700, 190], [3900, 120], [4200, 240], [4500, 160], [4800, 100], [5200, 330], [5600, 210], [6000, 130], [6500, 270], [7000, 170], [7500, 380], [8100, 230], [8600, 140], [9000, 300], [9400, 450], [9500, 190], [9500, 600], [9400, 130], [55, 16], [66, 20], [86, 15], [100, 25], [115, 18], [132, 23], [150, 28], [170, 16], [190, 25], [215, 20], [240, 29], [270, 22], [300, 46], [340, 26], [380, 33], [430, 46], [460, 60], [490, 30], [540, 68], [600, 38], [650, 82], [720, 60], [790, 35], [870, 100], [950, 60], [1050, 130], [1150, 80], [1280, 60], [1400, 140], [1550, 90], [1700, 160], [1900, 95], [2100, 140], [2300, 180], [2600, 130], [3000, 200], [3400, 160], [3800, 250], [4400, 190], [5000, 150], [5800, 260]]
const jGreenTop: Pt[] = [[60, 20], [80, 16], [110, 30], [140, 20], [180, 30], [230, 18], [290, 25], [360, 40], [440, 30], [520, 42], [620, 70], [720, 36], [860, 50], [1000, 70], [1200, 55], [1500, 110], [1800, 70], [2200, 120], [2700, 85], [3200, 130], [4000, 100], [5000, 200], [6200, 180], [7500, 150], [8500, 190]]
const jRed: Pt[] = [[21, 38], [23, 25], [30, 17], [32, 13], [38, 20], [42, 14], [45, 30], [48, 13], [52, 35], [75, 13], [85, 12], [130, 13], [170, 12.5], [210, 13], [270, 14], [320, 14], [380, 17], [450, 18], [510, 19], [640, 22], [750, 22], [900, 26], [1000, 28], [1200, 30], [240, 66], [300, 72], [380, 80], [470, 180], [600, 200], [760, 255], [900, 230], [1000, 320], [1300, 480], [1500, 500], [1900, 350], [2500, 360], [2700, 300], [3400, 440], [3700, 530], [4400, 490], [5200, 510], [6000, 590], [7000, 360], [8000, 420], [1500, 330], [2000, 440], [9400, 60], [8000, 14], [5000, 13], [3500, 22], [5500, 45], [6800, 42], [4500, 65]]
const jBlue: Pt[] = [[9600, 5800], [9500, 2800], [9500, 2400], [9500, 2000], [9200, 1200], [9500, 1000], [9500, 800], [9300, 650], [7000, 650], [7200, 530], [6000, 560], [2000, 480], [450, 290], [1000, 240], [3400, 280], [3900, 250], [4600, 200], [1500, 190], [550, 100], [3000, 240], [9400, 23], [9500, 21], [9400, 20], [7000, 27], [100, 70]]

// panel K
const kRedCore: Pt[] = [[1.15, 1.2], [1.5, 1.2], [1.95, 1.2], [2.5, 1.2], [3.2, 1.2], [4.1, 1.2], [5.2, 1.2], [6.2, 1.25], [1.15, 1.6], [1.5, 1.6], [1.95, 1.6], [2.5, 1.6], [3.2, 1.6], [4.1, 1.6], [5.2, 1.6], [1.15, 2.1], [1.5, 2.1], [1.95, 2.1], [2.5, 2.1], [3.2, 2.1], [4.1, 2.1], [5.2, 2.1], [1.15, 2.8], [1.5, 2.8], [1.95, 2.8], [2.5, 2.8], [3.2, 2.8], [4.1, 2.8], [1.2, 3.5], [1.5, 3.5], [1.95, 3.6], [2.5, 3.7], [3.2, 3.4], [4, 3.4], [1.7, 4.3], [2.3, 4.5], [3, 4.2]]
const kRed: Pt[] = [[1.05, 1.2], [1.05, 1.6], [1.05, 2], [1.05, 2.6], [1.05, 3.3], [1.05, 4.2], [1.05, 5.3], [1.05, 6.7], [1.05, 8.5], [1.05, 10.5], [1.05, 13.5], [1.1, 21], [7.3, 83], [5.3, 38], [8, 32], [5.9, 29], [2.3, 23], [3.6, 24], [4.3, 24], [3.7, 20.5], [10, 14], [1.45, 12.6], [3.6, 14], [4, 13], [4.7, 12.3], [5.3, 11.6], [5.6, 10.5], [2.4, 10.1], [12, 4.8], [17.5, 2.1], [9.3, 2.5], [9.3, 3.1], [8, 1.05], [8.6, 1.05], [9.4, 1.05], [10, 1.05], [11, 1.05], [12.5, 1.02], [14, 1.05], [6.8, 1.1], [7.5, 1.2], [8, 1.5], [7, 1.7], [6.5, 1.9], [8, 2.2], [7, 2.4], [6.3, 2.8], [8, 3], [7, 3.3], [6.5, 3.7], [6.9, 4.1], [6.2, 4.5], [7, 5], [6.3, 5.4], [5.5, 5], [4.8, 5.2], [4.2, 5.5], [3.6, 5.8], [3, 5.4], [2.6, 6], [2.1, 5.6], [1.7, 5.8], [1.35, 5.6], [1.6, 6.6], [2, 6.4], [2.4, 7], [3, 6.6], [3.6, 6.3], [4.3, 6.4], [5, 6.2], [1.4, 7.2], [1.9, 7.6], [2.8, 7.8], [3.4, 7.4], [4, 7.2], [5.2, 6.8], [1.7, 8.8], [2.2, 8.4], [2.9, 8.4], [3.4, 8.6], [4, 8.6], [4.6, 9], [2.7, 9.4], [3, 9], [3.7, 9.6], [4, 9.9], [1.3, 4.6], [1.2, 5.2], [1.5, 5], [3.5, 4.6], [4.1, 4.4], [4.7, 4.3], [5.3, 4.2], [5.6, 3.7], [5.2, 3.3], [5.6, 2.9], [2, 5], [2.8, 5.1], [3.3, 5.2], [3.8, 5], [4.5, 4.9], [5.1, 4.7], [1.25, 6.2], [1.8, 6.5], [2.3, 5.8], [2.8, 6.1], [3.3, 6], [3.9, 5.9], [4.6, 5.8], [5.4, 5.6], [5.9, 5], [5.9, 4.4], [4.9, 3.8], [5.5, 2.3]]

// panel L
const lRedCore: Pt[] = [[135, 1.6], [200, 1.6], [300, 1.6], [450, 1.6], [670, 1.6], [1000, 1.6], [1500, 1.6], [2200, 1.6], [3300, 1.6], [5000, 1.6], [7000, 1.6], [8500, 1.6], [135, 2.5], [200, 2.5], [300, 2.5], [450, 2.5], [670, 2.5], [1000, 2.5], [1500, 2.5], [2200, 2.5], [3300, 2.5], [5000, 2.5], [7000, 2.5], [8500, 2.5], [150, 3.6], [200, 3.6], [300, 3.6], [450, 3.6], [670, 3.6], [1000, 3.6], [1500, 3.6], [2200, 3.6], [3300, 3.6], [5000, 3.6], [7000, 3.6], [8500, 3.6]]
const lRed: Pt[] = [[82, 1.05], [88, 1.2], [95, 1.4], [100, 1.7], [92, 1.9], [98, 2.1], [105, 2.4], [100, 2.7], [110, 3], [105, 3.4], [112, 3.8], [108, 4.3], [110, 5.2], [118, 5.6], [130, 5], [145, 5.7], [150, 6.6], [175, 5.6], [185, 7.1], [200, 6.2], [215, 8], [240, 6.6], [270, 7], [300, 7.3], [330, 6.3], [360, 7.7], [410, 6.9], [470, 7.8], [540, 6.5], [600, 7.2], [680, 7.8], [780, 7], [880, 7.5], [1000, 8], [1150, 7.2], [1300, 8.2], [1450, 7.4], [1600, 7.9], [1850, 8.4], [2100, 7.2], [2400, 7.8], [2800, 8], [3300, 7.3], [3600, 9], [3800, 11], [4200, 9.5], [4600, 10.5], [5400, 12], [6000, 9.5], [6800, 11], [7500, 9], [8300, 11.5], [9200, 9], [9700, 11], [9800, 14], [9800, 17], [130, 4.5], [190, 5.2], [280, 5.8], [400, 6], [600, 5.8], [900, 6.2], [1300, 6], [1900, 6.3], [2800, 6.3], [4100, 6.4], [6000, 6.3], [8800, 6.4], [230, 5.7], [520, 5.9], [780, 5.8], [1100, 6], [1650, 6], [2400, 6], [3400, 6], [5000, 6.5], [7200, 7], [9600, 7.6], [3000, 21], [9600, 27], [9300, 27], [7700, 33], [9800, 40], [9800, 85], [9800, 31], [9800, 22], [160, 5.1], [260, 5.2], [350, 5.4], [490, 5.1], [700, 5.3], [1000, 5.5], [1450, 5.2], [2100, 5.4], [3000, 5.3], [4400, 5.6], [6500, 5.4], [9000, 5.5], [430, 6.4], [1200, 6.6], [2600, 7], [4700, 7.6], [6400, 7.8], [8000, 7.6]]

const FONT = "Lato, 'Open Sans', sans-serif"
const M = { top: 26, right: 30, bottom: 62, left: 60 }

function XTick({ x, y, payload, labels }: any) {
  const v = payload.value
  const major = Math.log10(v) % 1 === 0
  const five = String(v)[0] === "5"
  const len = major ? 13 : five ? 10 : 6
  return (
    <g>
      <line x1={x} x2={x} y1={y} y2={y + len} stroke="#222" strokeWidth={1.5} />
      {labels.includes(v) && (
        <text x={x - 2} y={y + 44} textAnchor="middle" fontFamily="'Liberation Sans', Arial" fontSize={21} fill="#111">
          <tspan>10</tspan>
          <tspan dy={-9} fontSize={14}>{Math.round(Math.log10(v))}</tspan>
        </text>
      )}
    </g>
  )
}

function YTick({ x, y, payload, labelled }: any) {
  const v = payload.value
  const major = Math.log10(v) % 1 === 0
  const five = String(v)[0] === "5"
  const len = major ? 9 : five ? 7 : 4
  return (
    <g>
      <line x1={x} x2={x - len} y1={y} y2={y} stroke="#222" strokeWidth={1.5} />
      {labelled && major && (
        <text x={x - 18} y={y + 9} textAnchor="end" fontFamily="'Liberation Sans', Arial" fontSize={23} fill="#111">
          <tspan>10</tspan>
          <tspan dy={-11} fontSize={16}>{Math.round(Math.log10(v))}</tspan>
        </text>
      )}
    </g>
  )
}

function Panel({ box, series, xLabels = [], yLabels = false, dot = 5 }: any) {
  const [l, t, r, b] = box
  return (
    <div style={{ position: "absolute", left: l - M.left, top: t - M.top }}>
      <ScatterChart width={r - l + M.left + M.right} height={b - t + M.top + M.bottom} margin={{ ...M, left: M.left - 1, bottom: M.bottom - 1 }}>
        <XAxis type="number" dataKey="x" scale="log" domain={[1, 10000]} allowDataOverflow ticks={logTicks} interval={0} height={1} tickSize={0} tickMargin={0} tickLine={false} axisLine={false} tick={(p: any) => <XTick {...p} labels={xLabels} />} />
        <YAxis type="number" dataKey="y" scale="log" domain={[1, 10000]} allowDataOverflow ticks={logTicks} interval={0} width={1} tickSize={0} tickMargin={0} tickLine={false} axisLine={false} tick={(p: any) => <YTick {...p} labelled={yLabels} />} />
        {gridX.map((v) => <ReferenceLine key={"x" + v} x={v} stroke="#c9c9c9" strokeWidth={2} />)}
        {gridY.map((v) => <ReferenceLine key={"y" + v} y={v} stroke="#c9c9c9" strokeWidth={2} />)}
        {series.map(([rows, color, size = dot]: any, i: number) => (
          <Scatter
            key={i}
            data={rows.map(([x, y]: Pt) => ({ x, y }))}
            isAnimationActive={false}
            shape={(p: any) => <rect x={p.cx - size / 2} y={p.cy - size / 2} width={size} height={size} fill={color} />}
          />
        ))}
        <ReferenceArea x1={1} x2={10000} y1={1} y2={10000} fill="none" stroke="#222" strokeWidth={2.5} />
      </ScatterChart>
    </div>
  )
}

const panels = [
  { box: [124, 24, 545, 444], yLabels: true, series: [[aGray, GRAY, 6], [aRedCore, RED, 10], [aRed, RED, 6], [aGreen, GREEN, 7], [aBlue, BLUE], [aCyan, CYAN], [aOlive, OLIVE], [aGrayHigh, GRAY]] },
  { box: [555, 23, 976, 444], series: [[bGrayCore, GRAY, 17], [bGray, GRAY, 6], [bOlive, OLIVE], [bGreenCore, GREEN, 12], [bGreen, GREEN, 6], [bRedCore, RED, 7], [bRed, RED, 6], [bBlue, BLUE], [bCyan, CYAN], [bGrayHigh, GRAY]] },
  { box: [1008, 22, 1423, 437], series: [[cGray, GRAY], [cRed, RED, 6], [cGreen, GREEN, 5], [cBlue, BLUE]] },
  { box: [1436, 22, 1850, 436], series: [[dGrayCore, GRAY, 13], [dGray, GRAY, 6], [dGreen, GREEN, 6], [dRed, RED, 6], [dPeri, PERI]] },
  { box: [122, 464, 544, 886], yLabels: true, dot: 6, series: [[eGray, GRAY], [eLime, LIME, 7], [eRed, RED], [eBlue, BLUE]] },
  { box: [554, 463, 976, 884], dot: 6, series: [[fGrayCore, GRAY, 16], [fGray, GRAY], [fGreen, GREEN], [fRed, RED], [fBlue, BLUE]] },
  { box: [1001, 463, 1422, 883], dot: 6, series: [[gGray, GRAY], [gGreen, GREEN], [gRedCore, RED, 10], [gRed, RED, 7], [gBlue, BLUE]] },
  { box: [1436, 459, 1855, 879], dot: 6, series: [[hGray, GRAY, 7], [hGreen, GREEN], [hRed, RED], [hBlue, BLUE]] },
  { box: [125, 905, 543, 1323], yLabels: true, xLabels: [1, 10, 100, 1000], series: [[iGrayHigh, GRAY], [iRedCore, RED, 13], [iRed, RED, 6], [iGreen, GREEN, 7], [iBlue, BLUE]] },
  { box: [555, 905, 973, 1323], xLabels: [10, 100, 1000], series: [[jGray, GRAY], [jGreenCore, GREEN, 17], [jGreen, GREEN, 6], [jRedCore, RED, 10], [jGreenTop, GREEN, 6], [jRed, RED, 6], [jBlue, BLUE]] },
  { box: [1005, 905, 1422, 1320], xLabels: [10, 100, 1000], series: [[kRedCore, RED, 14], [kRed, RED, 6]] },
  { box: [1441, 907, 1852, 1318], xLabels: [10, 100, 1000, 10000], series: [[lRedCore, RED, 36], [lRed, RED, 6]] },
]

const letters = [["A", 143, 83], ["B", 576, 79], ["C", 1021, 79], ["D", 1460, 79], ["E", 139, 526], ["F", 577, 524], ["G", 1018, 521], ["H", 1460, 517], ["I", 142, 966], ["J", 579, 963], ["K", 1023, 962], ["L", 1811, 962]]

const captions = [
  ["WAIS Divide 106 m", 361, 424, 367],
  ["Siple Dome 280 m", 1221, 417, 350],
  ["WAIS Divide 175 m", 349, 867, 368],
  ["WAIS Divide 258 m", 1227, 865, 367],
  ["GISP 2621 m", 379, 1302, 243],
  ["kaolinite grains;", 1265, 947, 305],
  ["trigger at 10² SSC units", 1197, 1005, 440],
  ["Phycoerythrin", 207, 1409, 271],
  ["Side Scatter", 649, 1409, 228],
  ["Phycoerythrin", 1090, 1402, 271],
  ["Side Scatter", 1556, 1407, 227],
  ["Fig. 8", 1, 1412, 88],
]

const arrows = [
  [326, 408, 132, 408], [808, 414, 970, 414], [1196, 408, 1004, 408], [1682, 405, 1843, 405],
  [309, 857, 116, 857], [796, 856, 957, 856], [1202, 857, 1008, 857], [1680, 852, 1841, 852],
  [328, 1290, 125, 1290], [693, 1290, 964, 1290],
]

function Overlay() {
  return (
    <svg width={1875} height={1421} style={{ position: "absolute", left: 0, top: 0, pointerEvents: "none" }}>
      <rect x={987} y={22} width={5} height={1299} fill="#000" />
      {[172, 610, 1035].map((top) => (
        <text key={top} transform={`translate(51 ${top + 217}) rotate(-90)`} fontFamily="'Liberation Sans', Arial" fontSize={46} textLength={217} lengthAdjust="spacingAndGlyphs" fill="#111">
          Chlorophyll
        </text>
      ))}
      {letters.map(([s, x, y]: any) => (
        <text key={s} x={x} y={y} fontFamily={FONT} fontSize={40} fill="#111">{s}</text>
      ))}
      {captions.map(([s, x, y, w]: any, i) => (
        <text key={i} x={x} y={y} fontFamily={FONT} fontSize={40} textLength={w} lengthAdjust="spacingAndGlyphs" fill="#111">{s}</text>
      ))}
      {arrows.map(([x1, y1, x2, y2], i) => {
        const dir = x2 > x1 ? -1 : 1
        const hx = x2 + dir * 21
        return (
          <g key={i} stroke="#000" strokeWidth={5} fill="none">
            <line x1={x1} y1={y1} x2={x2} y2={y2} />
            <polyline points={`${hx},${y1 - 11} ${x2},${y1} ${hx},${y1 + 11}`} />
          </g>
        )
      })}
      <g stroke={RED} fill="none">
        <line x1={1137} x2={1396} y1={1213} y2={1213} strokeWidth={5} />
        <line x1={1161} x2={1161} y1={1206} y2={1145} strokeWidth={4} />
        <polyline points="1150,1166 1161,1145 1172,1166" strokeWidth={4} />
        <line x1={1161} x2={1161} y1={1220} y2={1292} strokeWidth={4} />
        <polyline points="1150,1271 1161,1292 1172,1271" strokeWidth={4} />
        <line x1={1649} x2={1649} y1={1147} y2={1213} strokeWidth={4} />
        <polyline points="1637,1190 1649,1213 1661,1190" strokeWidth={4} />
      </g>
      <text x={1209} y={1178} fontFamily={FONT} fontSize={36} textLength={145} lengthAdjust="spacingAndGlyphs" fill={RED}>spillover</text>
      <text x={1223} y={1266} fontFamily={FONT} fontSize={36} textLength={90} lengthAdjust="spacingAndGlyphs" fill={RED}>noise</text>
    </svg>
  )
}

export default function App() {
  return (
    <div style={{ position: "absolute", left: 0, top: 0, width: 1875, height: 1421, overflow: "hidden", background: "#fff" }}>
      {panels.map((p, i) => <Panel key={i} {...p} />)}
      <Overlay />
    </div>
  )
}
